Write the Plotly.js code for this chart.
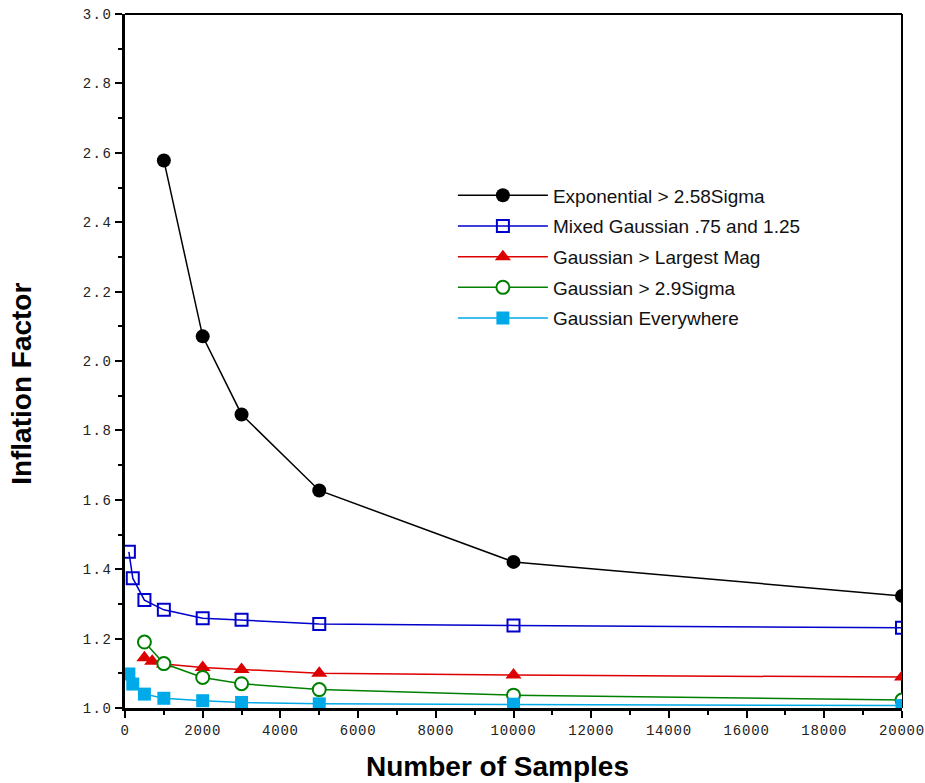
<!DOCTYPE html>
<html>
<head>
<meta charset="utf-8">
<script src="https://cdn.plot.ly/plotly-3.0.1.min.js"></script>
<style>
html,body{margin:0;padding:0;background:#fff;}
#chart{width:925px;height:783px;}
.ytick text{letter-spacing:1.4px;}
.xtick text{letter-spacing:0.8px;}
</style>
</head>
<body>
<div id="chart"></div>
<script>
// Data
const expX = [1000, 2000, 3000, 5000, 10000, 20000];
const expY = [2.578, 2.071, 1.846, 1.627, 1.421, 1.323];

const mixX = [100, 200, 500, 1000, 2000, 3000, 5000, 10000, 20000];
const mixY = [1.450, 1.374, 1.311, 1.283, 1.259, 1.254, 1.242, 1.238, 1.231];

const largX = [500, 700, 1000, 2000, 3000, 5000, 10000, 20000];
const largY = [1.145, 1.135, 1.127, 1.117, 1.111, 1.100, 1.095, 1.089];

const g29X = [500, 1000, 2000, 3000, 5000, 10000, 20000];
const g29Y = [1.190, 1.128, 1.088, 1.070, 1.053, 1.037, 1.023];

const everyX = [100, 200, 500, 1000, 2000, 3000, 5000, 10000, 20000];
const everyY = [1.098, 1.069, 1.040, 1.028, 1.021, 1.016, 1.012, 1.011, 1.007];

const names = [
  "Exponential > 2.58Sigma",
  "Mixed Gaussian .75 and 1.25",
  "Gaussian > Largest Mag",
  "Gaussian > 2.9Sigma",
  "Gaussian Everywhere"
];
const xTitle = "Number of Samples";
const yTitle = "Inflation Factor";

const traces = [
  {x: expX, y: expY, name: names[0], legendgroup: 'a', mode: 'lines+markers',
   line: {color: '#000000', width: 1.5},
   marker: {symbol: 'circle', size: 14, color: '#000000'}},
  {x: mixX, y: mixY, name: names[1], legendgroup: 'b', mode: 'lines+markers',
   line: {color: '#0000cc', width: 1.5},
   marker: {symbol: 'square-open', size: 12, color: '#0000cc', line: {width: 2, color: '#0000cc'}}},
  {x: largX, y: largY, name: names[2], legendgroup: 'c', mode: 'lines+markers',
   line: {color: '#dd0000', width: 1.5},
   marker: {symbol: 'triangle-up', size: 14, color: '#dd0000'}},
  {x: g29X, y: g29Y, name: names[3], legendgroup: 'd', mode: 'lines+markers',
   line: {color: '#008000', width: 1.5},
   marker: {symbol: 'circle', size: 13, color: '#ffffff', line: {width: 2, color: '#008000'}}},
  {x: everyX, y: everyY, name: names[4], legendgroup: 'e', mode: 'lines+markers',
   line: {color: '#00aae8', width: 1.5},
   marker: {symbol: 'square', size: 13, color: '#00aae8'}}
];

const tickFont = {family: 'Liberation Mono, DejaVu Sans Mono, monospace', size: 14, color: '#222'};
const titleFont = {family: 'Liberation Sans, Arial, sans-serif', size: 28, color: '#000', weight: 'bold'};

const layout = {
  width: 925, height: 783,
  margin: {l: 125, r: 23, t: 14, b: 75},
  paper_bgcolor: '#ffffff', plot_bgcolor: '#ffffff',
  showlegend: true,
  legend: {
    x: 0.422, y: 0.766, xanchor: 'left', yanchor: 'top',
    bgcolor: 'rgba(0,0,0,0)', borderwidth: 0,
    font: {family: 'Liberation Sans, Arial, sans-serif', size: 19, color: '#111'},
    tracegroupgap: 3, itemwidth: 90
  },
  xaxis: {
    range: [0, 20000], autorange: false,
    tickmode: 'linear', tick0: 0, dtick: 2000, tickformat: 'd',
    ticks: 'outside', ticklen: 7, tickwidth: 2, tickcolor: '#000',
    minor: {dtick: 1000, ticks: 'outside', ticklen: 4, tickwidth: 2, tickcolor: '#000'},
    showline: true, linewidth: 3, linecolor: '#000', mirror: false,
    showgrid: false, zeroline: false,
    ticklabeloverflow: 'allow',
    tickfont: tickFont
  },
  yaxis: {
    range: [1.0, 3.0], autorange: false,
    tickmode: 'linear', tick0: 1.0, dtick: 0.2, tickformat: '.1f',
    ticks: 'outside', ticklen: 7, tickwidth: 2, tickcolor: '#000',
    minor: {dtick: 0.1, ticks: 'outside', ticklen: 4, tickwidth: 2, tickcolor: '#000'},
    showline: true, linewidth: 3, linecolor: '#000', mirror: false,
    showgrid: false, zeroline: false,
    ticklabeloverflow: 'allow',
    tickfont: tickFont
  },
  annotations: [
    {text: xTitle, xref: 'paper', yref: 'paper', x: 0.4788, y: -0.0836,
     xanchor: 'center', yanchor: 'middle', showarrow: false, font: titleFont},
    {text: yTitle, xref: 'paper', yref: 'paper', x: -0.1326, y: 0.467, textangle: -90,
     xanchor: 'center', yanchor: 'middle', showarrow: false, font: titleFont}
  ],
  shapes: [
    {type: 'line', xref: 'paper', yref: 'paper', x0: 0, x1: 1, y0: 1, y1: 1, line: {color: '#000', width: 2}, layer: 'below'},
    {type: 'line', xref: 'paper', yref: 'paper', x0: 1, x1: 1, y0: 0, y1: 1, line: {color: '#000', width: 2}, layer: 'below'}
  ]
};

Plotly.newPlot('chart', traces, layout, {displayModeBar: false, responsive: false});
</script>
</body>
</html>
